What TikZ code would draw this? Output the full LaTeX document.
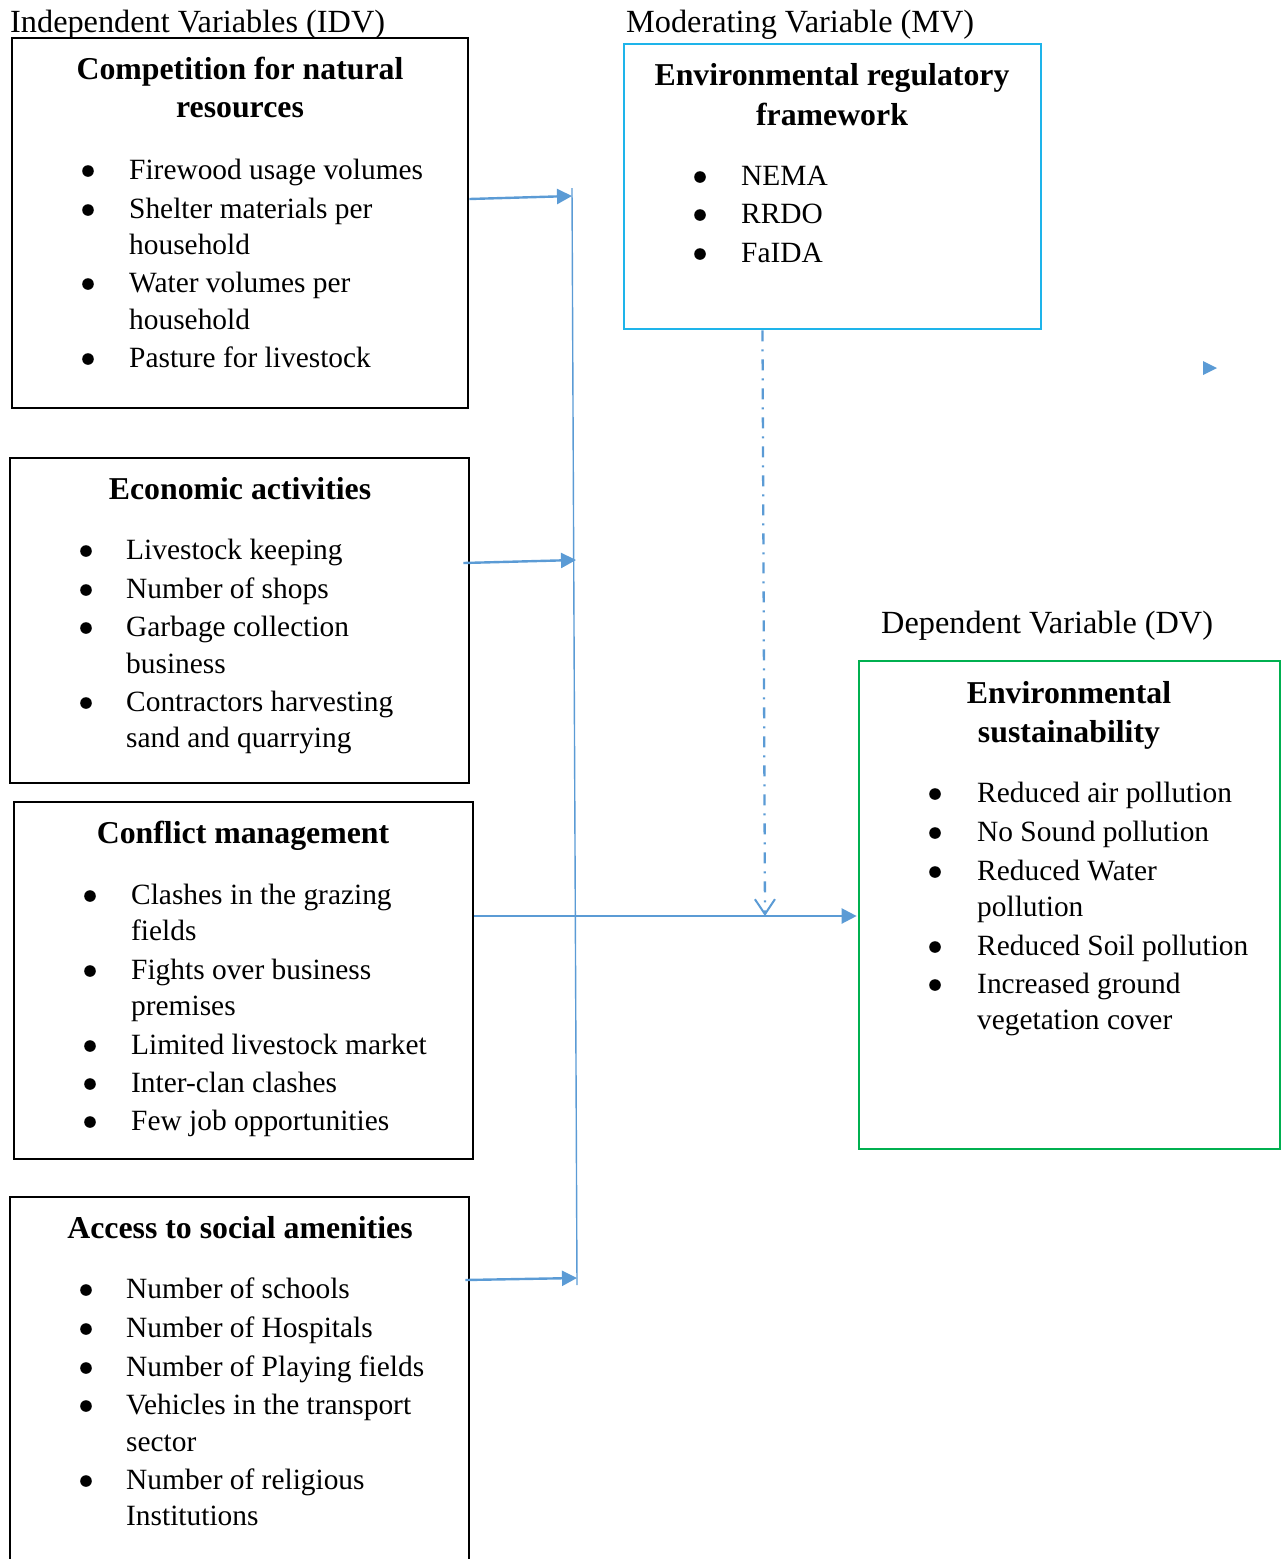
\documentclass[tikz,border=0pt]{standalone}
\usepackage{fontspec}
\setmainfont{Liberation Serif}
\usetikzlibrary{arrows.meta}
\definecolor{conn}{HTML}{5B9BD5}
\definecolor{mvc}{HTML}{1EB4EA}
\definecolor{dvc}{HTML}{00B050}
\newcommand\bodyf{\fontsize{29.4}{36.5}\selectfont}
\newcommand\titf{\fontsize{31.8}{39}\selectfont\bfseries}
\newcommand\labf{\fontsize{32.3}{39}\selectfont}
\tikzset{
  boxk/.style={draw=black, line width=2.7pt, inner sep=0pt},
  boxmv/.style={draw=mvc, line width=2.7pt, inner sep=0pt},
  boxdv/.style={draw=dvc, line width=2.7pt, inner sep=0pt},
  body/.style={font=\bodyf, inner sep=0pt, anchor=base west},
  titl/.style={font=\titf, inner sep=0pt, anchor=base},
  lab/.style={font=\labf, inner sep=0pt, anchor=base west},
  arr/.style={draw=conn, line width=2.4pt, -{Triangle[length=15pt,width=15pt]}},
  thinl/.style={draw=conn, line width=1.4pt},
  modl/.style={draw=conn, line width=2.3pt, dash pattern=on 11pt off 8pt on 2pt off 8pt,
    -{Straight Barb[length=15pt,width=20pt,line width=2pt]}},
}
\newcommand\bl[2]{\fill (#1,#2) circle (5.8pt);}
\begin{document}
\begin{tikzpicture}[x=1pt,y=-1pt]
\useasboundingbox (0,0) rectangle (1284,1559);
\begin{scope}
\clip (0,0) rectangle (1284,1559);
% boxes
\node[boxk, minimum width=456pt, minimum height=370pt] (b1) at (240,223) {};
\node[boxk, minimum width=459pt, minimum height=325pt] (b2) at (239.5,620.5) {};
\node[boxk, minimum width=459pt, minimum height=357pt] (b3) at (243.5,980.5) {};
\node[boxk, minimum width=459pt, minimum height=383pt] (b4) at (239.5,1388.5) {};
\node[boxmv, minimum width=417pt, minimum height=285pt] (mv) at (832.5,186.5) {};
\node[boxdv, minimum width=421pt, minimum height=488pt] (dv) at (1069.5,905) {};
\end{scope}
% labels
\node[lab] (lidv) at (10,32.5) {Independent Variables (IDV)};
\node[lab] (lmv) at (626,32.5) {Moderating Variable (MV)};
\node[lab] (ldv) at (881,633.5) {Dependent Variable (DV)};
% box 1
\node[titl] (t1a) at (240,79.5) {Competition for natural};
\node[titl] (t1b) at (240,117.5) {resources};
\bl{88}{171}\node[body] (i11) at (129,179.5) {Firewood usage volumes};
\bl{88}{210}\node[body] (i12) at (129,218.5) {Shelter materials per};
\node[body] (i12b) at (129,254.5) {household};
\bl{88}{284}\node[body] (i13) at (129,292.5) {Water volumes per};
\node[body] (i13b) at (129,329.5) {household};
\bl{88}{359}\node[body] (i14) at (129,367.5) {Pasture for livestock};
% box 2
\node[titl] (t2) at (240,499.5) {Economic activities};
\bl{86}{551}\node[body] (i21) at (126,559.5) {Livestock keeping};
\bl{86}{590}\node[body] (i22) at (126,598.5) {Number of shops};
\bl{86}{628}\node[body] (i23) at (126,636.5) {Garbage collection};
\node[body] (i23b) at (126,673.5) {business};
\bl{86}{703}\node[body] (i24) at (126,711.5) {Contractors harvesting};
\node[body] (i24b) at (126,747.5) {sand and quarrying};
% box 3
\node[titl] (t3) at (243,843.5) {Conflict management};
\bl{90}{896}\node[body] (i31) at (131,904.5) {Clashes in the grazing};
\node[body] (i31b) at (131,940.5) {fields};
\bl{90}{971}\node[body] (i32) at (131,979.5) {Fights over business};
\node[body] (i32b) at (131,1015.5) {premises};
\bl{90}{1046}\node[body] (i33) at (131,1054.5) {Limited livestock market};
\bl{90}{1084}\node[body] (i34) at (131,1092.5) {Inter-clan clashes};
\bl{90}{1122}\node[body] (i35) at (131,1130.5) {Few job opportunities};
% box 4
\node[titl] (t4) at (240,1238.5) {Access to social amenities};
\bl{86}{1290}\node[body] (i41) at (126,1298.5) {Number of schools};
\bl{86}{1329}\node[body] (i42) at (126,1337.5) {Number of Hospitals};
\bl{86}{1368}\node[body] (i43) at (126,1376.5) {Number of Playing fields};
\bl{86}{1406}\node[body] (i44) at (126,1414.5) {Vehicles in the transport};
\node[body] (i44b) at (126,1451.5) {sector};
\bl{86}{1481}\node[body] (i45) at (126,1489.5) {Number of religious};
\node[body] (i45b) at (126,1525.5) {Institutions};
% MV box
\node[titl] (tma) at (832,85.5) {Environmental regulatory};
\node[titl] (tmb) at (832,125.5) {framework};
\bl{700}{177}\node[body] (im1) at (741,185.5) {NEMA};
\bl{700}{215}\node[body] (im2) at (741,223.5) {RRDO};
\bl{700}{254}\node[body] (im3) at (741,262.5) {FaIDA};
% DV box
\node[titl] (tda) at (1069,703.5) {Environmental};
\node[titl] (tdb) at (1069,742.5) {sustainability};
\bl{935}{794}\node[body] (id1) at (977,802.5) {Reduced air pollution};
\bl{935}{833}\node[body] (id2) at (977,841.5) {No Sound pollution};
\bl{935}{872}\node[body] (id3) at (977,880.5) {Reduced Water};
\node[body] (id3b) at (977,916.5) {pollution};
\bl{935}{947}\node[body] (id4) at (977,955.5) {Reduced Soil pollution};
\bl{935}{985}\node[body] (id5) at (977,993.5) {Increased ground};
\node[body] (id5b) at (977,1029.5) {vegetation cover};
% connectors
\coordinate (vt) at (572,188);
\coordinate (vb) at (577,1285);
\coordinate (e1) at (572,196);
\coordinate (e2) at (576,560);
\coordinate (e4) at (577,1278);
\coordinate (mj) at (765,916);
\draw[thinl] (vt) -- (vb);
\draw[arr] ([yshift=24pt]b1.east) -- (e1);
\draw[arr] ([xshift=-7pt,yshift=57.5pt]b2.east) -- (e2);
\draw[arr] ([xshift=-5pt,yshift=108.5pt]b4.east) -- (e4);
\draw[arr] ([yshift=64.5pt]b3.east) -- ([yshift=-11pt,xshift=-1pt]dv.west);
\draw[modl] ([xshift=-70pt]mv.south) -- (mj);
\fill[conn] (1203,361) -- (1217,368) -- (1203,375) -- cycle;
\end{tikzpicture}
\end{document}
